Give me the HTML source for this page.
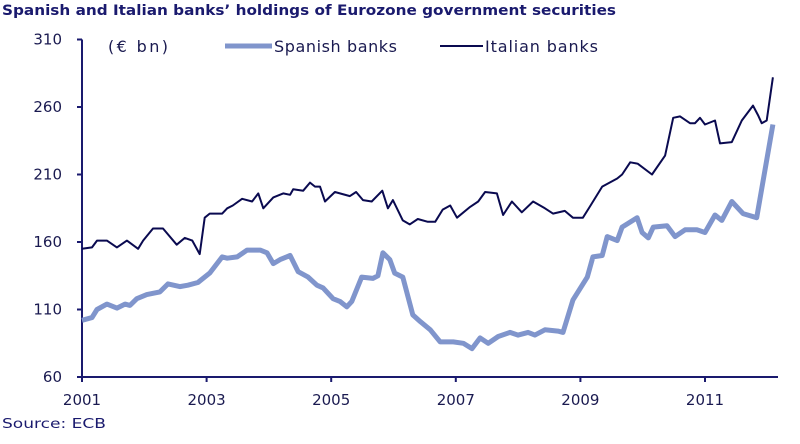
<!DOCTYPE html>
<html><head><meta charset="utf-8"><style>
body{margin:0;background:#fff;width:800px;height:440px;overflow:hidden;font-family:"DejaVu Sans","Liberation Sans",sans-serif}
</style></head><body>
<svg id="c" width="800" height="440" xmlns="http://www.w3.org/2000/svg">
<text x="2" y="15" font-size="14" font-weight="bold" fill="#1a1a6e" textLength="614" lengthAdjust="spacingAndGlyphs">Spanish and Italian banks’ holdings of Eurozone government securities</text>
<text x="108" y="52" font-size="16" fill="#1a1a50" textLength="60">(€ bn)</text>
<line x1="225" y1="46" x2="272" y2="46" stroke="#8095cc" stroke-width="5"/>
<text x="274" y="52" font-size="16" fill="#1a1a50" textLength="123">Spanish banks</text>
<line x1="440" y1="46" x2="483" y2="46" stroke="#0a0a50" stroke-width="2"/>
<text x="485" y="52" font-size="16" fill="#1a1a50" textLength="113">Italian banks</text>
<text x="2" y="428" font-size="13" fill="#1a1a6e" textLength="104" lengthAdjust="spacingAndGlyphs">Source: ECB</text>
<g id="axes"></g><g id="series"></g>
</svg>
<script>
const yTicks=[60,110,160,210,260,310];
const xTicks=[2001,2003,2005,2007,2009,2011];
const itT=[0,.16,.24,.40,.56,.72,.90,.98,1.14,1.30,1.52,1.65,1.77,1.89,1.97,2.05,2.25,2.33,2.42,2.57,2.73,2.83,2.91,3.07,3.23,3.34,3.39,3.55,3.66,3.74,3.82,3.90,4.06,4.30,4.40,4.51,4.65,4.82,4.91,4.99,5.15,5.26,5.39,5.55,5.67,5.79,5.91,6.02,6.23,6.36,6.47,6.66,6.76,6.90,7.06,7.24,7.43,7.56,7.75,7.88,8.04,8.15,8.35,8.59,8.67,8.80,8.92,9.15,9.36,9.49,9.60,9.76,9.84,9.92,10.00,10.16,10.24,10.43,10.59,10.77,10.85,10.91,10.99,11.09];
const itV=[155,156,161,161,156,161,155,161,170,170,158,163,161,151,178,181,181,185,187,192,190,196,185,193,196,195,199,198,204,201,201,190,197,194,197,191,190,198,185,191,176,173,177,175,175,184,187,178,186,190,197,196,180,190,182,190,185,181,183,178,178,186,201,207,210,219,218,210,224,252,253,248,248,252,247,250,233,234,250,261,254,248,250,282,302];
const esT=[0,.16,.24,.40,.56,.69,.77,.88,1.04,1.14,1.25,1.38,1.57,1.70,1.86,2.05,2.25,2.33,2.49,2.65,2.86,2.97,3.07,3.18,3.34,3.47,3.63,3.77,3.87,4.03,4.14,4.25,4.33,4.49,4.67,4.75,4.83,4.94,5.02,5.15,5.31,5.43,5.59,5.75,5.96,6.12,6.26,6.39,6.52,6.68,6.87,7.00,7.16,7.27,7.43,7.64,7.72,7.88,8.11,8.20,8.35,8.43,8.59,8.67,8.91,8.99,9.09,9.17,9.39,9.52,9.68,9.87,10.00,10.16,10.27,10.43,10.61,10.83,11.09];
const esV=[102,104,110,114,111,114,113,118,121,122,123,129,127,128,130,137,149,148,149,154,154,152,144,147,150,138,134,128,126,118,116,112,116,134,133,135,152,147,137,134,106,101,95,86,86,85,81,89,85,90,93,91,93,91,95,94,93,117,134,149,150,164,161,171,178,167,163,171,172,164,169,169,167,180,176,190,181,178,247];
const X0=82,PX=62.3,Y0=377,PY=67.5/50;
const sx=t=>X0+t*PX, sy=v=>Y0-(v-60)*PY;
const NS="http://www.w3.org/2000/svg";
const ax=document.getElementById('axes'), se=document.getElementById('series');
function mk(p,tag,at){const e=document.createElementNS(NS,tag);for(const k in at)e.setAttribute(k,at[k]);p.appendChild(e);return e;}
let l=mk(ax,'line',{x1:X0,y1:Y0,x2:X0,y2:sy(310),stroke:'#1a1a6e','stroke-width':2});


l=mk(ax,'line',{x1:X0,y1:Y0,x2:778,y2:Y0,stroke:'#1a1a6e','stroke-width':2});


yTicks.forEach(v=>{mk(ax,'line',{x1:X0-5,y1:sy(v),x2:X0,y2:sy(v),stroke:'#1a1a6e','stroke-width':2});
const t=mk(ax,'text',{x:X0-20,y:sy(v)+5,'text-anchor':'end','font-size':15,fill:'#1a1a50'});t.textContent=v;

});
xTicks.forEach(y=>{const x=sx(y-2001);mk(ax,'line',{x1:x,y1:Y0,x2:x,y2:Y0+5,stroke:'#1a1a6e','stroke-width':2});
const t=mk(ax,'text',{x:x,y:Y0+28,'text-anchor':'middle','font-size':15,fill:'#1a1a50'});t.textContent=y;

});
const pts=(T,V)=>T.map((t,i)=>sx(t).toFixed(1)+','+sy(V[i]).toFixed(1)).join(' ');
let p=mk(se,'polyline',{points:pts(esT,esV),fill:'none',stroke:'#8095cc','stroke-width':5,'stroke-linejoin':'round'});


p=mk(se,'polyline',{points:pts(itT,itV),fill:'none',stroke:'#0a0a50','stroke-width':2,'stroke-linejoin':'round'});


</script>
</body></html>
